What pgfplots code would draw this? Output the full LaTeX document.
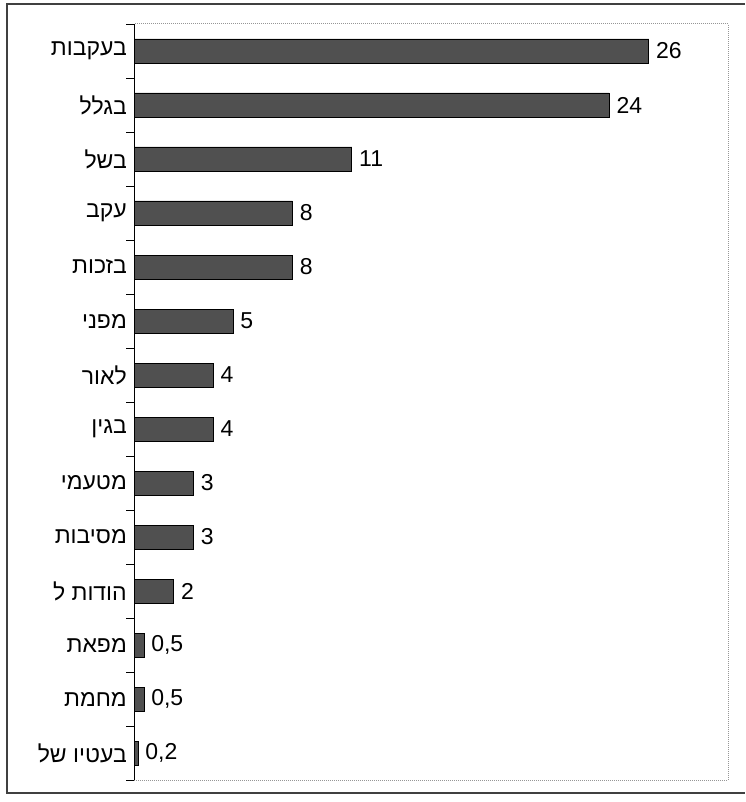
\documentclass[border=0pt]{standalone}
\usepackage{fontspec}
\setmainfont{Liberation Sans}
\newfontfamily\hebfont[Script=Hebrew]{Liberation Sans}
\TeXXeTstate=1
\usepackage{pgfplots}
\pgfplotsset{compat=1.18}
\definecolor{barfill}{RGB}{80,80,80}
\definecolor{framegray}{RGB}{150,150,150}
\begin{document}
\begin{tikzpicture}[x=1pt,y=1pt]
\path[use as bounding box] (0,0) rectangle (745,802);
\draw[line width=1.4pt, color=black!75] (745,798) -- (7,798) -- (7,9) -- (745,9);
\begin{axis}[
  at={(134pt,22pt)}, anchor=south west,
  scale only axis, width=594pt, height=756pt,
  xbar, bar width=24pt,
  xmin=0, xmax=30,
  ymin=0.5, ymax=14.5, y dir=reverse,
  xtick=\empty,
  ytick={1,...,14},
  yticklabels={{\beginR בעקבות\endR},{\beginR בגלל\endR},{\beginR בשל\endR},{\beginR עקב\endR},{\beginR בזכות\endR},{\beginR מפני\endR},{\beginR לאור\endR},{\beginR בגין\endR},{\beginR מטעמי\endR},{\beginR מסיבות\endR},{\beginR הודות ל\endR},{\beginR מפאת\endR},{\beginR מחמת\endR},{\beginR בעטיו של\endR}},
  minor ytick={0.5,1.5,...,14.5},
  major tick length=0pt,
  minor tick length=8pt,
  tick align=outside,
  tickpos=left,
  minor tick style={black, line width=0.8pt},
  yticklabel style={font=\hebfont\fontsize{23}{23}\selectfont, anchor=east, inner sep=0pt, xshift=-7pt},
  axis line style={framegray, densely dotted, line width=1pt},
  nodes near coords,
  nodes near coords style={font=\fontsize{23}{23}\selectfont, anchor=west, inner sep=0pt, xshift=7pt},
  /pgf/number format/use comma,
  /pgf/number format/assume math mode=true,
  clip=false,
]
\addplot[fill=barfill, draw=black, line width=0.8pt] coordinates {
(26,1) (24,2) (11,3) (8,4) (8,5) (5,6) (4,7) (4,8) (3,9) (3,10) (2,11) (0.5,12) (0.5,13) (0.2,14)
};
\draw[black, line width=1pt] (rel axis cs:0,0) -- (rel axis cs:0,1);
\end{axis}
\end{tikzpicture}
\end{document}
